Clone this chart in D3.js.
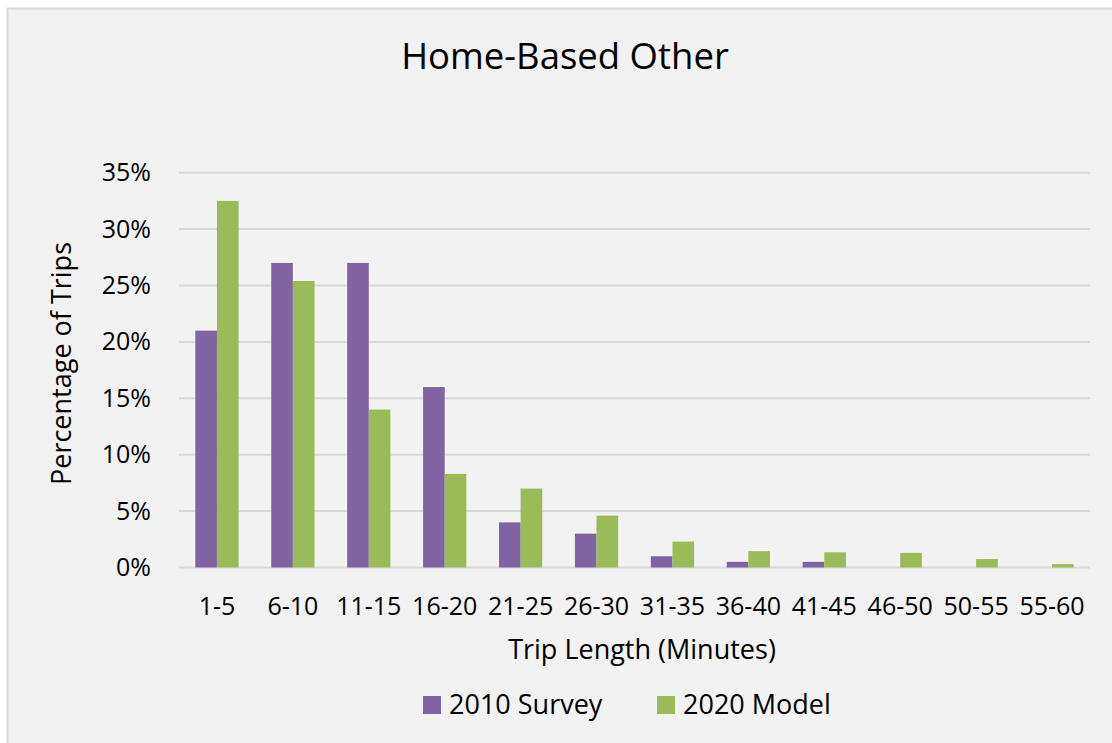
<!DOCTYPE html>
<html><head><meta charset="utf-8">
<script src="https://cdn.jsdelivr.net/npm/d3@7"></script>
<style>html,body{margin:0;padding:0;background:#fff;}svg{display:block;}</style>
</head><body>
<script>
const categories = ["1-5","6-10","11-15","16-20","21-25","26-30","31-35","36-40","41-45","46-50","50-55","55-60"];
const survey2010 = [21, 27, 27, 16, 4, 3, 1, 0.5, 0.5, 0, 0, 0];
const model2020 = [32.5, 25.4, 14, 8.3, 7, 4.6, 2.3, 1.45, 1.35, 1.3, 0.75, 0.3];
const seriesNames = ["2010 Survey", "2020 Model"];
const yTicks = [0, 5, 10, 15, 20, 25, 30, 35];

const W = 1112, H = 743;
const font = "'Open Sans', Lato, sans-serif";
const colors = ["#8064a2", "#9bbb59"];
const svg = d3.select("body").append("svg").attr("width", W).attr("height", H);
svg.append("rect").attr("x", 7.5).attr("y", 8.5).attr("width", W + 10).attr("height", H + 10)
  .attr("fill", "#f2f2f2").attr("stroke", "#d9d9d9").attr("stroke-width", 2);

const m = {left: 179, right: 1090, top: 172.7, bottom: 567.5};
const x = d3.scaleBand().domain(categories).range([m.left, m.right]).paddingInner(0.43).paddingOuter(0.215);
const xs = d3.scaleBand().domain(seriesNames).range([0, x.bandwidth()]);
const y = d3.scaleLinear().domain([0, 35]).range([m.bottom, m.top]);

// gridlines
svg.append("g").selectAll("line").data(yTicks).join("line")
  .attr("x1", m.left).attr("x2", m.right)
  .attr("y1", d => y(d)).attr("y2", d => y(d))
  .attr("stroke", "#d9d9d9").attr("stroke-width", 2);

// bars
const data = [survey2010, model2020];
data.forEach((vals, si) => {
  svg.append("g").selectAll("rect").data(vals).join("rect")
    .attr("x", (d, i) => x(categories[i]) + xs(seriesNames[si]))
    .attr("width", xs.bandwidth())
    .attr("y", d => y(d))
    .attr("height", d => m.bottom - y(d))
    .attr("fill", colors[si]);
});

// y axis
const yAxis = d3.axisLeft(y).tickValues(yTicks).tickFormat(d => d + "%").tickSize(0).tickPadding(28);
const ya = svg.append("g").attr("transform", `translate(${m.left},0)`).call(yAxis);
ya.select(".domain").remove();
ya.selectAll("text").attr("font-family", font).attr("font-size", 25).attr("fill", "#000");

// x axis
const xAxis = d3.axisBottom(x).tickSize(0).tickPadding(30);
const xa = svg.append("g").attr("transform", `translate(0,${m.bottom})`).call(xAxis);
xa.select(".domain").remove();
xa.selectAll("text").attr("font-family", font).attr("font-size", 25).attr("fill", "#000");

// title
svg.append("text").attr("x", 565).attr("y", 69).attr("text-anchor", "middle")
  .attr("font-family", font).attr("font-size", 36.5).attr("fill", "#000").text("Home-Based Other");
// axis titles
svg.append("text").attr("transform", "translate(71,363.5) rotate(-90)").attr("text-anchor", "middle")
  .attr("font-family", font).attr("font-size", 27).attr("fill", "#000").text("Percentage of Trips");
svg.append("text").attr("x", 642).attr("y", 659).attr("text-anchor", "middle")
  .attr("font-family", font).attr("font-size", 27).attr("fill", "#000").text("Trip Length (Minutes)");

// legend
const legX = [423, 657];
seriesNames.forEach((n, i) => {
  svg.append("rect").attr("x", legX[i]).attr("y", 696).attr("width", 18).attr("height", 18).attr("fill", colors[i]);
  svg.append("text").attr("x", legX[i] + 26).attr("y", 713.5).attr("font-family", font).attr("font-size", 27)
    .attr("fill", "#000").text(n);
});
</script>
</body></html>
